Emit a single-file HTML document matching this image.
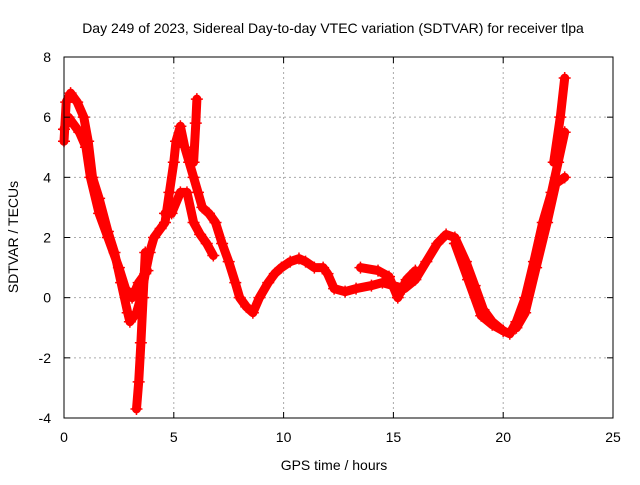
<!DOCTYPE html>
<html><head><meta charset="utf-8"><style>
body{margin:0;background:#fff}
svg text{font-family:"Liberation Sans",sans-serif;font-size:14px;fill:#000}
</style></head><body>
<svg id="chart" width="640" height="480" xmlns="http://www.w3.org/2000/svg">
<text x="333" y="33" text-anchor="middle">Day 249 of 2023, Sidereal Day-to-day VTEC variation (SDTVAR) for receiver tlpa</text>
<g id="grid"></g>
<g id="marks"></g>
<rect x="64" y="57" width="549" height="361" fill="none" stroke="#000"/>
<g id="ticks"></g>
<text x="334" y="470" text-anchor="middle">GPS time / hours</text>
<text transform="translate(18,237) rotate(-90)" text-anchor="middle">SDTVAR / TECUs</text>
</svg>
<script>
const xTicks=[0,5,10,15,20,25];
const yTicks=[-4,-2,0,2,4,6,8];
const trackMainX=[0,0.1,0.3,0.6,0.9,1.1,1.3,1.6,2,2.3,2.6,2.9,3.0,3.3,3.5,3.7,3.9,4.1,4.4,4.6,4.8,5,5.1,5.3,5.5,5.7,5.9,6.1,6.3,6.6,6.9,7.2,7.5,7.8,8,8.3,8.6,8.9,9.3,9.6,9.9,10.3,10.7,11,11.4,11.8,12,12.3,12.8,13.3,14,14.5,15,15.5,16,16.5,17,17.4,17.8,18.3,18.7,19.1,19.5,20,20.3,20.6,21,21.4,21.8,22.2,22.5,22.8];
const trackMainY=[5.2,6.5,6.8,6.5,6,5.2,4,3.3,2.2,1.5,0.5,-0.5,-0.8,-0.5,0,0.8,1.5,2,2.3,2.5,3.5,4.5,5.2,5.7,5,4.5,4,3.5,3,2.8,2.5,1.8,1.2,0.5,0,-0.3,-0.5,0,0.5,0.8,1,1.2,1.3,1.2,1,1,0.8,0.3,0.2,0.3,0.4,0.5,0.4,0.3,0.6,1.2,1.8,2.1,2,1.2,0.4,-0.4,-0.8,-1.1,-1.2,-0.8,0,1.2,2.5,3.5,4.5,5.5];
const trackEarlyX=[0,0.2,0.7,1,1.2,1.6,2,2.5,2.8,3.1,3.4,3.8];
const trackEarlyY=[5.6,6,5.5,5,4,2.8,2,1,0.3,0,0.5,0.9];
const trackDropX=[3.7,3.6,3.5,3.4,3.3];
const trackDropY=[1.5,0,-1.5,-2.8,-3.7];
const trackMidX=[4.6,4.9,5.3,5.6,5.9,6.2,6.5,6.8];
const trackMidY=[2.8,2.8,3.5,3.5,2.5,2.1,1.8,1.4];
const trackSpikeX=[5.9,6.0,6.05];
const trackSpikeY=[4.5,5.8,6.6];
const trackDayX=[13.5,14.3,14.8,15.2,15.6,16];
const trackDayY=[1,0.9,0.7,0,0.6,0.9];
const trackDuskX=[17.8,18.4,19,19.5,20];
const trackDuskY=[1.8,0.6,-0.6,-0.9,-1.1];
const trackLateX=[20.6,21,21.5,22,22.4,22.8];
const trackLateY=[-1,-0.5,1,2.5,3.8,4];
const trackPeakX=[22.3,22.6,22.8];
const trackPeakY=[4.5,6,7.3];
const tracks=[[trackMainX,trackMainY],[trackEarlyX,trackEarlyY],[trackDropX,trackDropY],[trackMidX,trackMidY],[trackSpikeX,trackSpikeY],[trackDayX,trackDayY],[trackDuskX,trackDuskY],[trackLateX,trackLateY],[trackPeakX,trackPeakY]];
const X=v=>64+v*549/25, Y=v=>418-(v+4)*361/12;
const NS="http://www.w3.org/2000/svg";
const g=document.getElementById('grid'),t=document.getElementById('ticks'),m=document.getElementById('marks');
function el(p,n,a){const e=document.createElementNS(NS,n);for(const k in a)e.setAttribute(k,a[k]);p.appendChild(e);return e;}
xTicks.forEach(v=>{
 const l=el(g,'line',{x1:X(v),x2:X(v),y1:57,y2:418,stroke:'#aaa','stroke-dasharray':'2,3'});
 
 
 el(t,'line',{x1:X(v),x2:X(v),y1:418,y2:412,stroke:'#000'});
 el(t,'line',{x1:X(v),x2:X(v),y1:57,y2:63,stroke:'#000'});
 const tx=el(t,'text',{x:X(v),y:442,'text-anchor':'middle'});tx.textContent=v;
 
 
});
yTicks.forEach(v=>{
 const l=el(g,'line',{x1:64,x2:613,y1:Y(v),y2:Y(v),stroke:'#aaa','stroke-dasharray':'2,3'});
 
 
 el(t,'line',{x1:64,x2:70,y1:Y(v),y2:Y(v),stroke:'#000'});
 el(t,'line',{x1:607,x2:613,y1:Y(v),y2:Y(v),stroke:'#000'});
 const tx=el(t,'text',{x:51,y:Y(v)+5,'text-anchor':'end'});tx.textContent=v;
 
 
});
tracks.forEach(([xs,ys])=>{
 const d=xs.map((x,i)=>(i?'L':'M')+X(x).toFixed(1)+','+Y(ys[i]).toFixed(1)).join('');
 const p=el(m,'path',{d:d,fill:'none',stroke:'#f00','stroke-width':9,'stroke-linejoin':'round','stroke-linecap':'round'});
 
 
 xs.forEach((x,i)=>{
  const cx=X(x),cy=Y(ys[i]);
  const mk=el(m,'path',{d:`M${cx-6},${cy}h12M${cx},${cy-6}v12`,stroke:'#f00','stroke-width':1.5});
  
  
 });
});
</script>
</body></html>
